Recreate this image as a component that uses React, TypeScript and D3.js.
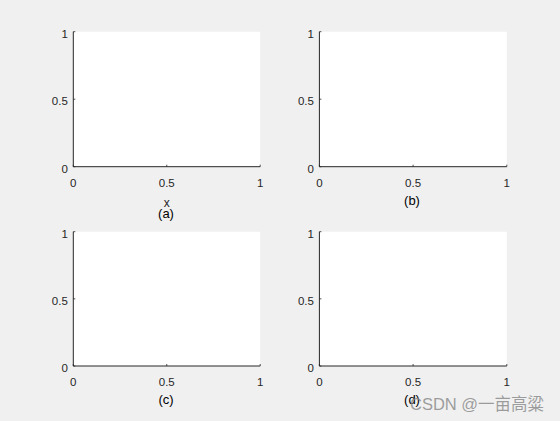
import React from "react";
import * as d3 from "d3";

const panelLabels = ["(a)", "(b)", "(c)", "(d)"];
const xTicks = [0, 0.5, 1];
const yTicks = [0, 0.5, 1];
const xDomain = [0, 1];
const yDomain = [0, 1];
const xLabels = ["x", "", "", ""];

const W = 560;
const H = 421;
const boxes = [
  { x0: 73.3, x1: 260.2, y0: 31.7, y1: 166.7, lx: 166, ly: 218 },
  { x0: 319.4, x1: 506.8, y0: 31.7, y1: 166.7, lx: 412, ly: 204.5 },
  { x0: 73.3, x1: 260.2, y0: 231.7, y1: 366, lx: 166, ly: 404 },
  { x0: 319.4, x1: 506.8, y0: 231.7, y1: 366, lx: 412, ly: 403.5 },
];

const AX = "#262626";
const FONT = "'Liberation Sans', Arial, Helvetica, sans-serif";

function Panel({ b, i }: { b: any; i: number }) {
  const x = d3.scaleLinear().domain(xDomain).range([b.x0, b.x1]);
  const y = d3.scaleLinear().domain(yDomain).range([b.y1, b.y0]);
  return (
    <g>
      <rect x={b.x0} y={b.y0} width={b.x1 - b.x0} height={b.y1 - b.y0} fill="#ffffff" />
      <line x1={b.x0} x2={b.x1} y1={b.y1} y2={b.y1} stroke={AX} strokeWidth={1} />
      <line x1={b.x0} x2={b.x0} y1={b.y0} y2={b.y1} stroke={AX} strokeWidth={1} />
      {xTicks.map((t) => (
        <g key={"x" + t}>
          <line x1={x(t)} x2={x(t)} y1={b.y1} y2={b.y1 - 2} stroke={AX} strokeWidth={0.8} />
          <text x={x(t)} y={b.y1 + 20} textAnchor="middle" fontSize={11.5} fill={AX} fontFamily={FONT}>
            {d3.format("~g")(t)}
          </text>
        </g>
      ))}
      {yTicks.map((t) => (
        <g key={"y" + t}>
          <line x1={b.x0} x2={b.x0 + 2} y1={y(t)} y2={y(t)} stroke={AX} strokeWidth={0.8} />
          <text x={b.x0 - 5.5} y={y(t) + 6} textAnchor="end" fontSize={11.5} fill={AX} fontFamily={FONT}>
            {d3.format("~g")(t)}
          </text>
        </g>
      ))}
      {xLabels[i] ? (
        <text x={(b.x0 + b.x1) / 2} y={b.y1 + 40} textAnchor="middle" fontSize={12} fill={AX} fontFamily={FONT}>
          {xLabels[i]}
        </text>
      ) : null}
      <text x={b.lx} y={b.ly} textAnchor="middle" fontSize={13} fill="#000000" fontFamily={FONT}>
        {panelLabels[i]}
      </text>
    </g>
  );
}

export default function App() {
  return (
    <svg
      width={W}
      height={H}
      style={{ position: "absolute", left: 0, top: 0, display: "block" }}
    >
      <rect x={0} y={0} width={W} height={H} fill="#f0f0f0" />
      {boxes.map((b, i) => (
        <Panel key={i} b={b} i={i} />
      ))}
      <text x={410} y={410} fontSize={16.5} fill="#8c8c8c" fillOpacity={0.85} fontFamily="'Liberation Sans', 'Noto Sans CJK SC', sans-serif">
        CSDN @一亩高粱
      </text>
    </svg>
  );
}
